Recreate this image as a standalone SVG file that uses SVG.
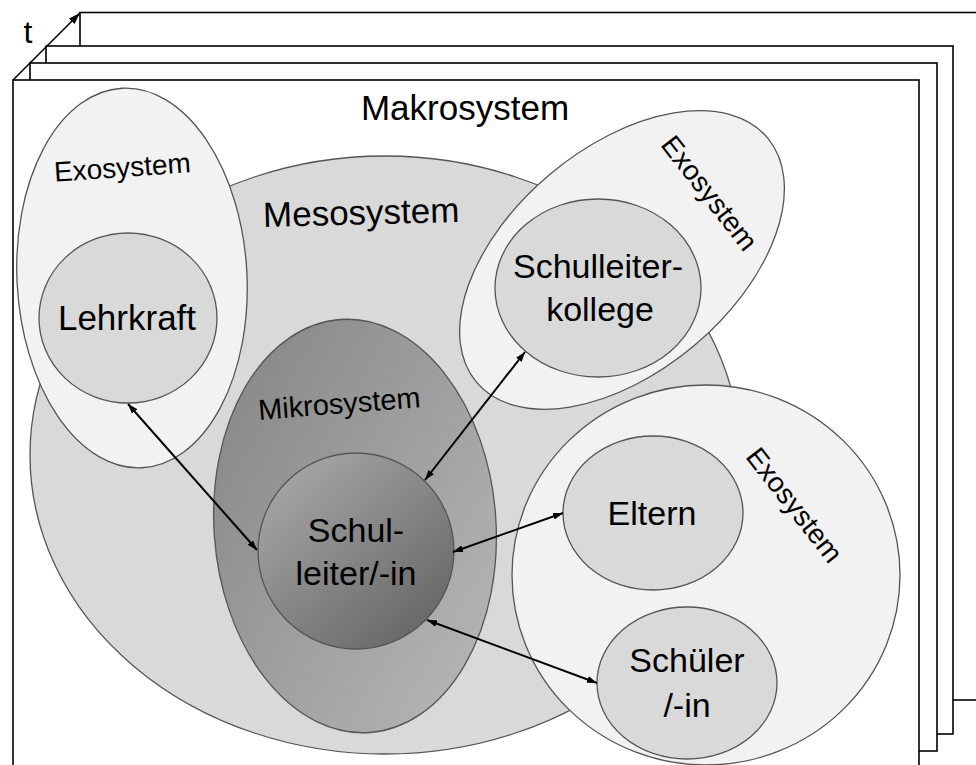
<svg xmlns="http://www.w3.org/2000/svg" width="976" height="765" viewBox="0 0 976 765">
  <defs>
    <style>
      .frame { fill: #ffffff; stroke: #000000; stroke-width: 1.6; }
      .meso { fill: #d9d9d9; stroke: #555555; stroke-width: 1.3; }
      .exo { fill: #f2f2f2; stroke: #555555; stroke-width: 1.3; }
      .person { fill: #d9d9d9; stroke: #555555; stroke-width: 1.3; }
      .lbl { font-family: "Liberation Sans", Arial, sans-serif; fill: #000000; text-anchor: middle; }
      .big { font-size: 35px; }
      .mid { font-size: 34px; }
      .sys { font-size: 28px; }
      .conn { stroke: #000000; stroke-width: 2; fill: none; marker-start: url(#head); marker-end: url(#head); }
    </style>
    <marker id="head" viewBox="0 0 10 7" refX="10" refY="3.5" markerWidth="10" markerHeight="7" markerUnits="userSpaceOnUse" orient="auto-start-reverse">
      <path d="M0,0 L10,3.5 L0,7 Z" fill="#000000"/>
    </marker>
    <marker id="timehead" viewBox="0 0 12 8" refX="12" refY="4" markerWidth="12" markerHeight="8" markerUnits="userSpaceOnUse" orient="auto">
      <path d="M0,0 L12,4 L0,8 Z" fill="#000000"/>
    </marker>
    <linearGradient id="gMikro" x1="0.15" y1="0.1" x2="0.9" y2="0.85">
      <stop offset="0" stop-color="#8a8a8a"/>
      <stop offset="1" stop-color="#b3b3b3"/>
    </linearGradient>
    <linearGradient id="gLeiter" x1="0.15" y1="0.1" x2="0.85" y2="0.9">
      <stop offset="0" stop-color="#a4a4a4"/>
      <stop offset="1" stop-color="#686868"/>
    </linearGradient>
  </defs>

  <!-- stacked time layers -->
  <g id="layers">
    <rect class="frame" x="80" y="12.5" width="920" height="687.5"/>
    <rect class="frame" x="46" y="46" width="907" height="688"/>
    <rect class="frame" x="30" y="63" width="907" height="688"/>
    <rect class="frame" x="13" y="80" width="906" height="700"/>
    <line x1="13" y1="80" x2="80" y2="13" stroke="#000000" stroke-width="1.6" marker-end="url(#timehead)"/>
    <text class="lbl" x="28" y="43" font-size="32">t</text>
  </g>

  <text class="lbl big" x="465" y="120">Makrosystem</text>

  <!-- Mesosystem -->
  <g id="mesosystem">
    <ellipse class="meso" cx="385" cy="455" rx="355" ry="299"/>
    <text class="lbl big" transform="translate(361.5,224.5) rotate(-1.5)">Mesosystem</text>
  </g>

  <!-- Exosystem left: Lehrkraft -->
  <g id="exo-lehrkraft">
    <ellipse class="exo" cx="132" cy="278" rx="115" ry="190" transform="rotate(-3 132 278)"/>
    <text class="lbl sys" transform="translate(123,177) rotate(-4)">Exosystem</text>
  </g>
  <g id="lehrkraft">
    <ellipse class="person" cx="128" cy="318" rx="89" ry="85"/>
    <text class="lbl big" x="127" y="330">Lehrkraft</text>
  </g>

  <!-- Exosystem top right: Schulleiterkollege -->
  <g id="exo-kollege">
    <ellipse class="exo" cx="622" cy="260" rx="190" ry="112" transform="rotate(-40 622 260)"/>
    <text class="lbl sys" transform="translate(702,199) rotate(52)">Exosystem</text>
  </g>
  <g id="kollege">
    <ellipse class="person" cx="598" cy="288" rx="103" ry="89"/>
    <text class="lbl mid" x="598" y="278">Schulleiter-</text>
    <text class="lbl mid" x="600" y="321">kollege</text>
  </g>

  <!-- Exosystem bottom right: Eltern, Schüler -->
  <g id="exo-familie">
    <ellipse class="exo" cx="706" cy="575" rx="194" ry="190"/>
    <text class="lbl sys" transform="translate(787,511) rotate(52)">Exosystem</text>
  </g>
  <g id="eltern">
    <ellipse class="person" cx="653" cy="513" rx="90" ry="77"/>
    <text class="lbl mid" x="652" y="525">Eltern</text>
  </g>
  <g id="schueler">
    <ellipse class="person" cx="687" cy="683" rx="90" ry="76"/>
    <text class="lbl mid" x="687" y="672">Schüler</text>
    <text class="lbl mid" x="687" y="717">/-in</text>
  </g>

  <!-- Mikrosystem -->
  <g id="mikrosystem">
    <ellipse cx="355" cy="526" rx="141" ry="207" transform="rotate(-4 355 526)" fill="url(#gMikro)" stroke="#555555" stroke-width="1.3"/>
    <text class="lbl" font-size="29" transform="translate(340,413.5) rotate(-4.5)">Mikrosystem</text>
  </g>
  <g id="schulleiter">
    <circle cx="356" cy="551" r="98" fill="url(#gLeiter)" stroke="#555555" stroke-width="1.3"/>
    <text class="lbl mid" x="356" y="542">Schul-</text>
    <text class="lbl mid" x="356" y="585">leiter/-in</text>
  </g>

  <!-- connectors -->
  <g id="connectors">
    <line class="conn" x1="128" y1="404" x2="257" y2="550"/>
    <line class="conn" x1="525" y1="352" x2="425" y2="480"/>
    <line class="conn" x1="563" y1="513" x2="453" y2="552"/>
    <line class="conn" x1="597" y1="683" x2="427" y2="620"/>
  </g>
</svg>
